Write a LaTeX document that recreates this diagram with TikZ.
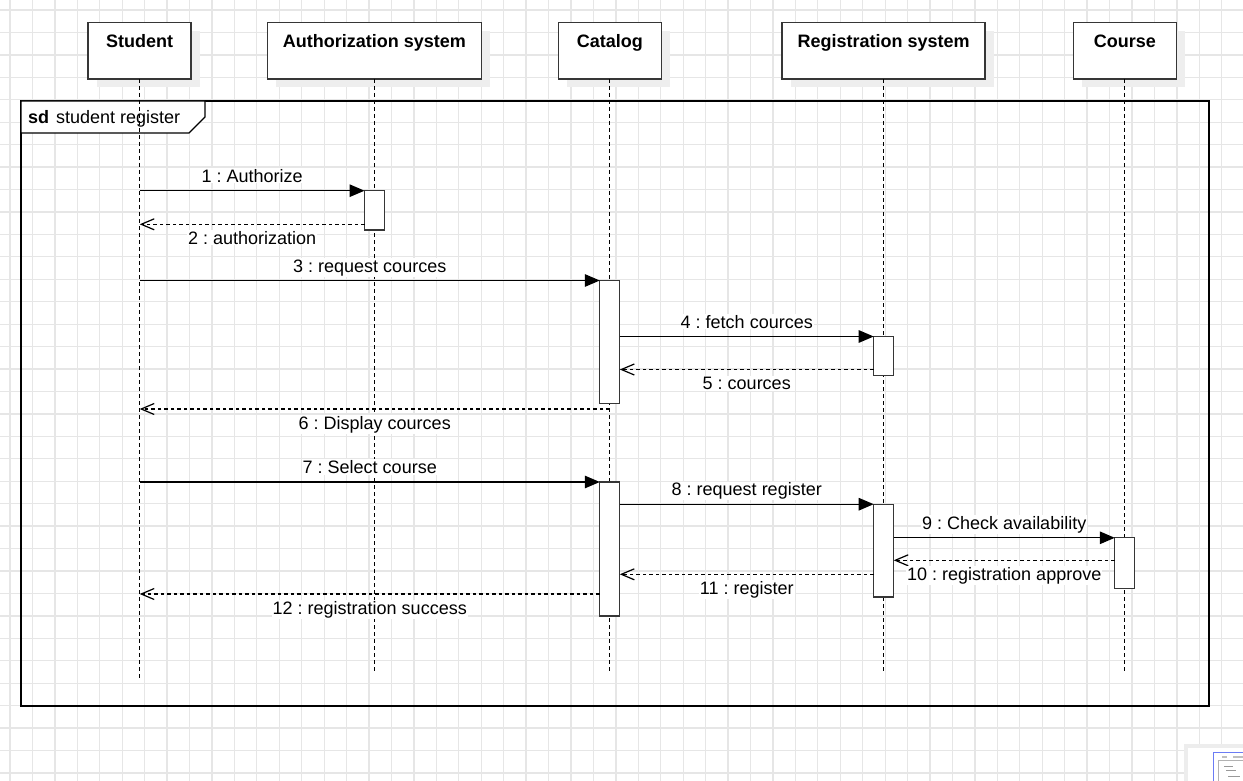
\documentclass[tikz,border=0pt]{standalone}
\usepackage{fontspec}
\setmainfont{Liberation Sans}
\usetikzlibrary{arrows.meta,calc}
\definecolor{gridc}{RGB}{230,230,230}
\definecolor{shadowc}{RGB}{238,238,238}
\definecolor{boxc}{RGB}{54,54,54}
\definecolor{minib}{RGB}{107,124,245}
\frenchspacing
\begin{document}
\frenchspacing
\begin{tikzpicture}[x=1pt,y=-1pt,
  font=\fontsize{18}{21.6}\selectfont\frenchspacing,
  gridline/.style={draw=gridc, line width=1.3pt},
  hdr/.style={draw=boxc, line width=1.5pt, fill=white, minimum height=56.5pt, inner sep=0pt, outer sep=0pt,
    preaction={fill=shadowc, transform canvas={xshift=8.5pt, yshift=-8.5pt}}},
  hdrtxt/.style={font=\fontsize{18}{21.6}\selectfont\bfseries, anchor=base, inner sep=0pt},
  lifeline/.style={draw=black, line width=1.3pt, dash pattern=on 4pt off 3pt},
  act/.style={draw=boxc, line width=1.3pt, fill=white, minimum width=20pt, inner sep=0pt, outer sep=0pt, anchor=north},
  call/.style={draw=black, line width=1.3pt, -{Triangle[length=15pt, width=12.5pt]}},
  reply/.style={draw=black, line width=1.2pt, dash pattern=on 3.5pt off 3pt, -{Straight Barb[length=13pt, width=11pt]}},
  lbl/.style={fill=white, inner sep=1pt, anchor=base},
  sdframe/.style={draw=black, line width=1.5pt, inner sep=0pt, outer sep=0pt},
]
\useasboundingbox (0,0) rectangle (1243,781);
\fill[white] (0,0) rectangle (1243,781);
% grid
\foreach \i in {0,...,55} \draw[gridline] ({10+\i*22.44},0) -- ({10+\i*22.44},781);
\foreach \i in {0,...,34} \draw[gridline] (0,{10+\i*22.44}) -- (1243,{10+\i*22.44});

% frame
\node[sdframe, minimum width=1188pt, minimum height=605pt, anchor=north west] (frame) at (21,101) {};
\draw[fill=white, line width=1.3pt] (frame.north west) -- ++(184,0) -- ++(0,16) -- ++(-16,16) -- ++(-168,0) -- cycle;
\node[anchor=base west, inner sep=0pt] (sdlbl) at (28,123.3) {\textbf{sd}\hspace{7pt}student register};

% headers
\node[hdr, minimum width=103pt] (student) at (139.7,50.75) {};
\node[hdr, minimum width=214pt] (auth) at (374.5,50.75) {};
\node[hdr, minimum width=103pt] (catalog) at (609.8,50.75) {};
\node[hdr, minimum width=203pt] (reg) at (883.7,50.75) {};
\node[hdr, minimum width=103pt] (course) at (1124.8,50.75) {};
\node[hdrtxt] (student-t) at ([yshift=-25.2pt]student.north) {Student};
\node[hdrtxt] (auth-t) at ([yshift=-25.2pt]auth.north) {Authorization system};
\node[hdrtxt] (catalog-t) at ([yshift=-25.2pt]catalog.north) {Catalog};
\node[hdrtxt] (reg-t) at ([yshift=-25.2pt]reg.north) {Registration system};
\node[hdrtxt] (course-t) at ([yshift=-25.2pt]course.north) {Course};

% lifelines
\coordinate (endA) at (0,680);
\coordinate (endB) at (0,672);
\draw[lifeline] (student.south) -- (student.south |- endA);
\draw[lifeline] (auth.south) -- (auth.south |- endB);
\draw[lifeline] (catalog.south) -- (catalog.south |- endB);
\draw[lifeline] (reg.south) -- (reg.south |- endB);
\draw[lifeline] (course.south) -- (course.south |- endB);

% activations
\node[act, minimum height=39.3pt] (a1) at (374.5,190.7) {};
\node[act, minimum height=123.2pt] (c1) at (609.8,280.5) {};
\node[act, minimum height=39.2pt] (r1) at (883.7,336.5) {};
\node[act, minimum height=134pt] (c2) at (609.8,482) {};
\node[act, minimum height=92.7pt] (r2) at (883.7,504.2) {};
\node[act, minimum height=50.5pt] (k1) at (1124.8,537.8) {};

% message levels
\coordinate (y2) at (0,224.3);
\coordinate (y5) at (0,369.5);
\coordinate (y6) at (0,409);
\coordinate (y10) at (0,560.3);
\coordinate (y11) at (0,574.3);
\coordinate (y12) at (0,594);

% messages
\draw[call] (student |- a1.north) -- (a1.north west) node[lbl, midway, yshift=8.5pt] {1 : Authorize};
\draw[reply] (a1.west |- y2) -- (student |- y2) node[lbl, midway, yshift=-20pt] {2 : authorization};
\draw[call] (student |- c1.north) -- (c1.north west) node[lbl, midway, yshift=8.5pt] {3 : request cources};
\draw[call] (c1.east |- r1.north) -- (r1.north west) node[lbl, midway, yshift=8.5pt] {4 : fetch cources};
\draw[reply] (r1.west |- y5) -- (c1.east |- y5) node[lbl, midway, yshift=-20pt] {5 : cources};
\draw[reply] (catalog |- y6) -- (student |- y6) node[lbl, midway, yshift=-20pt] {6 : Display cources};
\draw[call] (student |- c2.north) -- (c2.north west) node[lbl, midway, yshift=8.5pt] {7 : Select course};
\draw[call] (c2.east |- r2.north) -- (r2.north west) node[lbl, midway, yshift=8.5pt] {8 : request register};
\draw[call] (r2.east |- k1.north) -- (k1.north west) node[lbl, midway, yshift=8.5pt] {9 : Check availability};
\draw[reply] (k1.west |- y10) -- (r2.east |- y10) node[lbl, midway, yshift=-20pt] {10 : registration approve};
\draw[reply] (r2.west |- y11) -- (c2.east |- y11) node[lbl, midway, yshift=-20pt] {11 : register};
\draw[reply] (c2.west |- y12) -- (student |- y12) node[lbl, midway, yshift=-20pt] {12 : registration success};

% outline thumbnail in the corner
\fill[black!7] (1184,744) rectangle (1250,790);
\fill[white] (1188,748) rectangle (1250,790);
\draw[minib, line width=1.6pt] (1213.5,752.5) rectangle (1260,800);
\fill[black!25] (1222,755.5) rectangle (1227,757.5);
\fill[black!25] (1233,755.5) rectangle (1243,757.5);
\draw[black!30, line width=0.4pt] (1218,760) -- (1243,760);
\draw[black!30, line width=0.4pt] (1218,760) -- (1218,781);
\draw[black!40, line width=0.4pt] (1224,766) -- (1233,766);
\draw[black!40, line width=0.4pt] (1226,770) -- (1236,770);
\draw[black!40, line width=0.4pt] (1228,776) -- (1240,776);
\end{tikzpicture}
\end{document}
